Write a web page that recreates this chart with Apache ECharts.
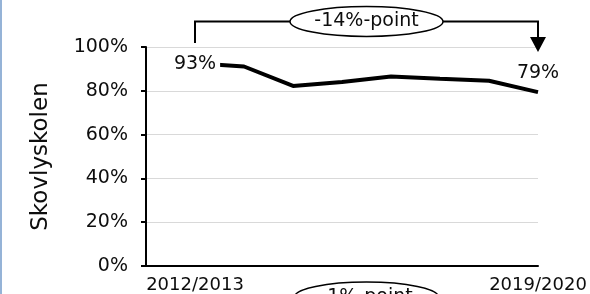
<!DOCTYPE html>
<html>
<head>
<meta charset="utf-8">
<script src="https://cdn.jsdelivr.net/npm/echarts@6/dist/echarts.min.js"></script>
<style>
  html, body { margin: 0; padding: 0; background: #fff; }
  #grafico { width: 590px; height: 294px; }
</style>
</head>
<body>
<div id="grafico"></div>
<script>
// dados
var anos = ["", "2012/2013", "2013/2014", "2014/2015", "2015/2016", "2016/2017", "2017/2018", "2018/2019", "2019/2020"];
var valores = [null, 92.6, 91.1, 82.2, 84.0, 86.5, 85.5, 84.6, 79.4];
var rotuloDiferenca = "-14%-point";
var rotuloAbaixo = "-1%-point";

var fonte = "DejaVu Sans";
var corTexto = "#0d0d0d";

var dados = valores.map((v, i) => {
    if (i === 1) {
        return { value: v, label: { show: true, position: "inside", offset: [0, 1], backgroundColor: "#fff", padding: [2, 4] } };
    }
    if (i === valores.length - 1) {
        return { value: v, label: { show: true, position: "top", distance: 10 } };
    }
    return v;
});

var myChart = echarts.init(document.getElementById("grafico"));

var option = {
    animation: false,
    grid: { left: 146, right: 52, top: 47, bottom: 27.5 },
    xAxis: {
        type: "category",
        data: anos,
        boundaryGap: false,
        axisLine: { lineStyle: { color: "#000", width: 2 } },
        axisTick: { show: false },
        axisLabel: {
            interval: (i) => i === 1 || i === anos.length - 1,
            color: corTexto,
            fontFamily: fonte,
            fontSize: 18,
            margin: 10
        },
        splitLine: { show: false }
    },
    yAxis: {
        type: "value",
        min: 0,
        max: 100,
        interval: 20,
        name: "Skovlyskolen",
        nameLocation: "middle",
        nameGap: 93,
        nameTextStyle: { color: corTexto, fontFamily: fonte, fontSize: 23 },
        axisLine: { show: true, lineStyle: { color: "#000", width: 2 } },
        axisTick: { show: true, length: 5, lineStyle: { color: "#000", width: 2 } },
        axisLabel: {
            formatter: "{value}%",
            color: corTexto,
            fontFamily: fonte,
            fontSize: 19,
            margin: 18
        },
        splitLine: { lineStyle: { color: "#d9d9d9", width: 1 } }
    },
    series: [
        {
            type: "line",
            data: dados,
            symbol: "circle",
            symbolSize: 0,
            showSymbol: true,
            itemStyle: { color: "#000" },
            lineStyle: { color: "#000", width: 4 },
            label: {
                show: false,
                color: corTexto,
                fontFamily: fonte,
                fontSize: 19,
                formatter: (p) => Math.round(p.value) + "%"
            },
            z: 3
        }
    ]
};

myChart.setOption(option);

// anotacao (colchete com seta)
var ini = myChart.convertToPixel({ gridIndex: 0 }, [1, 100]);
var fim = myChart.convertToPixel({ gridIndex: 0 }, [anos.length - 1, 100]);
var base = myChart.convertToPixel({ gridIndex: 0 }, [1, 0]);
var yTopo = ini[1] - 25.5;
var xMeio = (ini[0] + fim[0]) / 2;

myChart.setOption({
    graphic: [
        { type: "rect", shape: { x: 0, y: 0, width: 2, height: 294 }, style: { fill: "#95b3d7" } },
        {
            type: "polyline",
            shape: { points: [[ini[0], ini[1] - 4], [ini[0], yTopo], [fim[0], yTopo], [fim[0], ini[1] - 9]] },
            style: { stroke: "#000", lineWidth: 2, fill: null }
        },
        {
            type: "polygon",
            shape: { points: [[fim[0] - 8, ini[1] - 10], [fim[0] + 8, ini[1] - 10], [fim[0], ini[1] + 5]] },
            style: { fill: "#000" }
        },
        {
            type: "ellipse",
            shape: { cx: xMeio, cy: yTopo, rx: 76.5, ry: 15 },
            style: { fill: "#fff", stroke: "#000", lineWidth: 1.5 }
        },
        {
            type: "text",
            x: xMeio, y: yTopo,
            style: { text: rotuloDiferenca, fontFamily: fonte, fontSize: 19, fill: corTexto, align: "center", verticalAlign: "middle" }
        },
        {
            type: "ellipse",
            shape: { cx: xMeio, cy: base[1] + 31, rx: 72, ry: 15 },
            style: { fill: "#fff", stroke: "#000", lineWidth: 1.5 }
        },
        {
            type: "text",
            x: xMeio, y: base[1] + 31,
            style: { text: rotuloAbaixo, fontFamily: fonte, fontSize: 19, fill: corTexto, align: "center", verticalAlign: "middle" }
        }
    ]
});
</script>
</body>
</html>
